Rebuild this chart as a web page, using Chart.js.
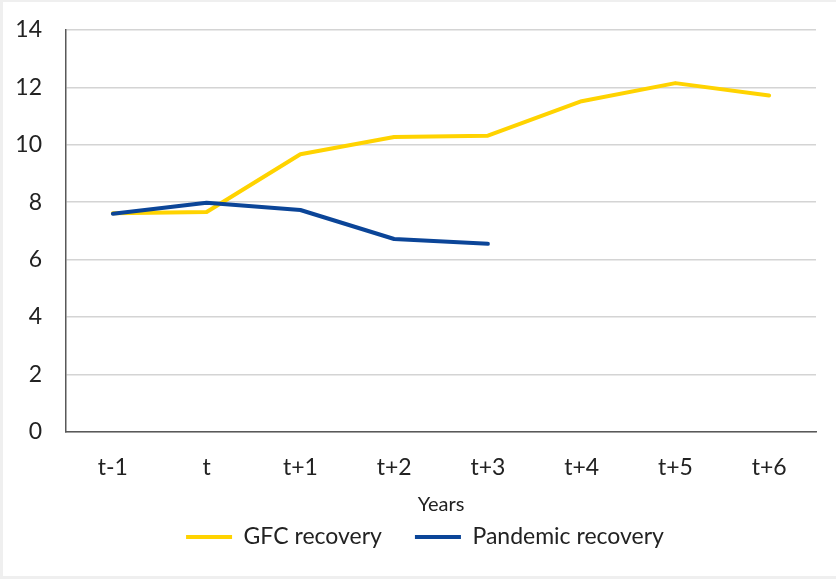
<!doctype html>
<html lang="en">
  <head>
    <meta charset="utf-8">
    <title>GFC vs pandemic recovery</title>
    <style>
      * {
        margin: 0;
        padding: 0;
      }
      body {
        width: 836px;
        height: 579px;
        background: #efefef;
        overflow: hidden;
      }
      .chartBox {
        position: absolute;
        left: 3px;
        top: 2px;
        width: 833px;
        height: 574px;
        background: white;
      }
    </style>
  </head>
  <body>
    <div class="chartBox">
      <canvas id="myChart" width="833" height="574"></canvas>
    </div>
    <script src="https://cdn.jsdelivr.net/npm/chart.js"></script>
    <script>
    // setup
    const years = ['t-1', 't', 't+1', 't+2', 't+3', 't+4', 't+5', 't+6'];
    const gfcRecovery = [7.62, 7.66, 9.67, 10.27, 10.32, 11.52, 12.15, 11.72];
    const pandemicRecovery = [7.6, 7.98, 7.73, 6.72, 6.55, null, null, null];
    const yTicks = [0, 2, 4, 6, 8, 10, 12, 14];

    const font = 'Lato, "Open Sans", sans-serif';

    const data = {
      labels: years,
      datasets: [{
        label: 'GFC recovery',
        data: gfcRecovery,
        borderColor: '#FFD300',
        backgroundColor: '#FFD300',
        borderWidth: 4,
        order: 1
      }, {
        label: 'Pandemic recovery',
        data: pandemicRecovery,
        borderColor: '#0B4598',
        backgroundColor: '#0B4598',
        borderWidth: 4,
        order: 0
      }]
    };

    // legend sits a bit right of the canvas centre in the original
    const legendNudge = {
      id: 'legendNudge',
      afterLayout(chart) {
        chart.legend.left += 15.5;
        chart.legend.right += 15.5;
      }
    };

    // config
    const config = {
      type: 'line',
      data,
      options: {
        responsive: false,
        animation: false,
        layout: {
          padding: { top: 28, right: 20, left: 0, bottom: 17.5 }
        },
        elements: {
          line: { tension: 0, borderCapStyle: 'round', borderJoinStyle: 'round' },
          point: { radius: 0 }
        },
        scales: {
          x: {
            offset: true,
            grid: { display: false },
            border: { color: '#595959', width: 1.5 },
            ticks: { color: '#222', padding: 14, font: { family: font, size: 23 } },
            title: {
              display: true,
              text: 'Years',
              color: '#222',
              padding: { top: -2.5, bottom: -24.5 },
              font: { family: font, size: 20 }
            }
          },
          y: {
            min: 0,
            max: 14,
            afterBuildTicks: scale => {
              scale.ticks = yTicks.map(v => ({ value: v }));
            },
            afterFit: scale => {
              scale.width = 63;
              scale.paddingTop = 0;
            },
            grid: { color: '#d4d4d4', lineWidth: 1.5, drawTicks: false },
            border: { color: '#595959', width: 1.5 },
            ticks: { color: '#222', padding: 24, font: { family: font, size: 23 } }
          }
        },
        plugins: {
          tooltip: { enabled: false },
          legend: {
            position: 'bottom',
            labels: {
              usePointStyle: true,
              pointStyle: 'line',
              pointStyleWidth: 46,
              color: '#222',
              padding: 33,
              font: { family: font, size: 23 },
              sort: (a, b) => a.datasetIndex - b.datasetIndex
            }
          }
        }
      },
      plugins: [legendNudge]
    };

    // render init block
    const myChart = new Chart(
      document.getElementById('myChart'),
      config
    );
    </script>
  </body>
</html>
